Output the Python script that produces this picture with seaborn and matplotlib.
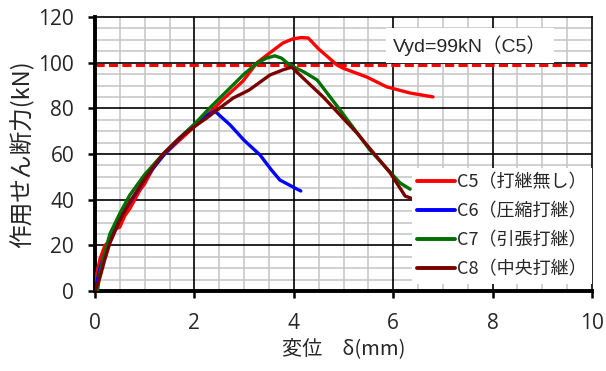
import matplotlib
matplotlib.use("Agg")
import matplotlib.pyplot as plt
import seaborn as sns
import pandas as pd
import numpy as np

# ---- data ----
c5_x = [0, 0.05, 0.1, 0.2, 0.3, 0.4, 0.5, 0.6, 0.7, 0.8, 0.9, 1.0, 1.2, 1.4, 1.65, 2.0, 2.3, 2.58, 2.98,
        3.26, 3.5, 3.78, 3.98, 4.15, 4.29, 4.5, 4.87, 4.99, 5.47, 5.87, 6.34, 6.8]
c5_y = [3, 9, 14, 20, 22, 27, 28, 33, 36, 40, 44, 47, 55, 60, 65, 72, 78, 84, 92,
        100, 104, 108.6, 110.4, 111, 110.8, 106, 99, 97.6, 93.7, 89.4, 86.7, 85]
c6_x = [0, 0.1, 0.3, 0.5, 0.8, 1.0, 1.4, 1.8, 2.1, 2.41, 2.72, 3.0, 3.32, 3.55, 3.72, 3.98, 4.14]
c6_y = [0, 10, 22, 32, 42, 49, 60, 69, 75, 78.8, 72.7, 66, 59.6, 53, 48.6, 45.6, 43.8]
c7_x = [0.05, 0.1, 0.2, 0.3, 0.5, 0.7, 1.0, 1.37, 1.7, 2.0, 2.3, 2.72, 3.0, 3.26, 3.45, 3.62, 3.75,
        3.92, 4.2, 4.47, 4.93, 5.53, 6.14, 6.34]
c7_y = [0, 8, 17, 25, 34, 42, 51, 60, 67, 73, 80, 89, 95, 99.8, 102, 103, 102,
        99, 96, 92.4, 79.3, 61.8, 47.3, 44.6]
c8_x = [0, 0.1, 0.2, 0.3, 0.5, 0.7, 1.0, 1.37, 1.7, 2.0, 2.25, 2.5, 2.78, 3.1, 3.52, 3.8, 3.96,
        4.2, 4.59, 5.27, 5.94, 6.24, 6.4]
c8_y = [0, 6, 14, 21, 31, 39, 49, 60, 67, 72, 75.8, 80, 84.5, 88, 94.6, 97, 98,
        93, 85, 69.2, 51.7, 41.6, 40.3]
labels = ["C5（打継無し）", "C6（圧縮打継）", "C7（引張打継）", "C8（中央打継）"]
colors = ["#FF0000", "#0000FF", "#007000", "#7A0000"]
vyd_x = [0, 9.9]
vyd_y = [99, 99]
vyd_text = "Vyd=99kN（C5）"
x_ticks = [0, 2, 4, 6, 8, 10]
y_ticks = [0, 20, 40, 60, 80, 100, 120]

sns.set_theme(style="white")
plt.rcParams["font.family"] = ["Noto Sans CJK JP", "DejaVu Sans"]

frames = []
for xs, ys, lab in zip([c5_x, c6_x, c7_x, c8_x], [c5_y, c6_y, c7_y, c8_y], labels):
    frames.append(pd.DataFrame({"x": xs, "y": ys, "series": lab}))
df = pd.concat(frames, ignore_index=True)

fig = plt.figure(figsize=(6.06, 3.71), dpi=100)
ax = fig.add_axes([95/606, 80/371, 497/606, 274/371])

ax.set_xlim(0, 10)
ax.set_ylim(0, 120)

# grid: minor (gray) below major (black)
for v in np.arange(0.5, 10, 0.5):
    if v % 2:
        ax.axvline(v, color="#C4C4C4", linewidth=1.1, zorder=0.5)
for v in np.arange(5, 120, 5):
    if v % 20:
        ax.axhline(v, color="#C4C4C4", linewidth=1.1, zorder=0.5)
for v in x_ticks[1:-1]:
    ax.axvline(v, color="black", linewidth=1.2, zorder=0.6)
for v in y_ticks[1:-1]:
    ax.axhline(v, color="black", linewidth=1.2, zorder=0.6)

ax.plot(vyd_x, vyd_y, color="#FF0000", linestyle=(0, (3, 1.4)), linewidth=2.2, zorder=2)

sns.lineplot(data=df, x="x", y="y", hue="series", palette=dict(zip(labels, colors)),
             hue_order=labels, sort=False, estimator=None, units="series",
             linewidth=2.4, ax=ax, zorder=3)

for s in ["left", "bottom"]:
    ax.spines[s].set_linewidth(2.8)
    ax.spines[s].set_color("black")
for s in ["top", "right"]:
    ax.spines[s].set_linewidth(1.2)
    ax.spines[s].set_color("black")

ax.set_xticks(x_ticks)
ax.set_xticklabels([str(t) for t in x_ticks], family=["Open Sans", "DejaVu Sans"], fontsize=15)
ax.set_yticks(y_ticks)
ax.set_yticklabels([str(t) for t in y_ticks], family=["Open Sans", "DejaVu Sans"], fontsize=15)
ax.tick_params(axis="x", which="major", direction="out", length=5, width=1.8, color="black",
               bottom=True, pad=11)
ax.tick_params(axis="y", which="major", direction="out", length=5, width=1.8, color="black",
               left=True, pad=10)

ax.set_xlabel("変位　δ(mm)", fontsize=14.5, labelpad=3)
ax.set_ylabel("作用せん断力(kN)", fontsize=17, labelpad=3)

ax.text(7.55, 107.5, vyd_text, fontsize=14, ha="center", va="center", zorder=5,
        family=["Liberation Sans", "Noto Sans CJK JP"],
        bbox=dict(facecolor="white", edgecolor="none", pad=5))

h, l = ax.get_legend_handles_labels()
leg = ax.legend(h, l, loc="lower right", bbox_to_anchor=(1.0, 0.025), frameon=True,
                fontsize=13, handlelength=2.1, handletextpad=0.1, labelspacing=0.62,
                borderpad=0.3, borderaxespad=0.0)
leg.get_frame().set_facecolor("white")
leg.get_frame().set_edgecolor("none")
leg.get_frame().set_alpha(1.0)
leg.get_frame().set_boxstyle("square", pad=0)
leg.set_zorder(6)
for line in leg.get_lines():
    line.set_linewidth(2.8)

fig.savefig("out.png", dpi=100)
